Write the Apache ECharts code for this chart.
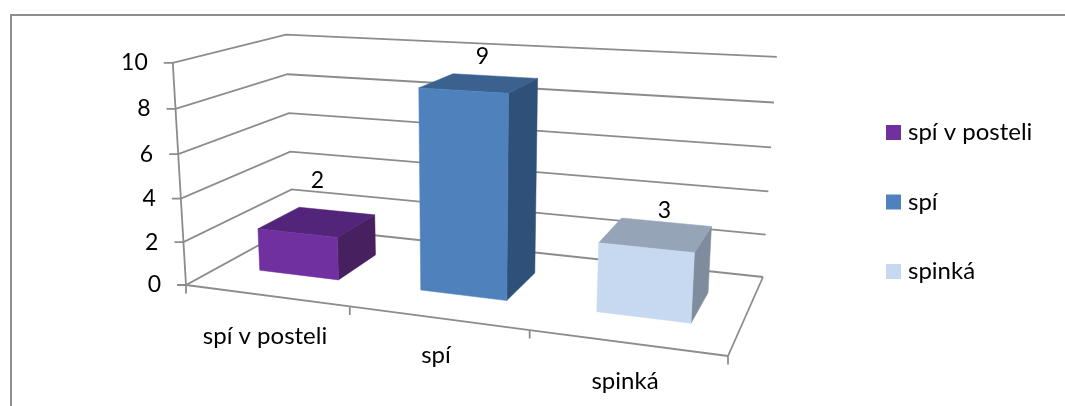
<!DOCTYPE html>
<html>
<head>
<meta charset="utf-8">
<style>html,body{margin:0;padding:0;background:#fff}#chart{width:1065px;height:406px}</style>
<script src="https://cdn.jsdelivr.net/npm/echarts@6/dist/echarts.min.js"></script>
</head>
<body>
<div id="chart"></div>
<script>
// Chart data
const categories = ['spí v posteli', 'spí', 'spinká'];
const sleepCounts = [2, 9, 3];
const valueTicks = [0, 2, 4, 6, 8, 10];

// Face colours per category: front, top, side
const faceColors = [
  ['#7030a0', '#52247a', '#47205f'],
  ['#4f81bd', '#3b618f', '#2f5078'],
  ['#c6d9f1', '#95a4b7', '#7f8c9d']
];
const lineColor = '#8c8c8c';
const fontFamily = 'Lato, Carlito, sans-serif';
const wordFont = '24px ' + fontFamily;
const digitFont = '23px ' + fontFamily;

// Floor corners of the 3D box on screen: front-left, front-right, back-right, back-left
const floorCorners = [[186, 285], [728, 356], [763, 277], [293, 226.5]];
// Height axis of the projection: screen shift per full height and the perspective divisor
const heightShift = [-21, -225];
const heightPerspective = -0.045;
// Slight easing of the category direction, evens out the band widths
const acrossEase = 0.024;

// Bar footprint in box units
const barWidthShare = 0.5;   // of one category band
const barDepth = [0.3, 0.7];

// Label placement relative to the anchors computed from the box
const valueLabelShift = [[0, -41], [3, -26], [8, -24]];
const categoryLabelAnchor = [[265, 336], [436, 355], [625, 381]];

// Projective camera: floor homography extended with a height column
const camera = (function (q) {
  const [p0, p1, p2, p3] = q;
  const dx1 = p1[0] - p2[0], dx2 = p3[0] - p2[0], sx = p0[0] - p1[0] + p2[0] - p3[0];
  const dy1 = p1[1] - p2[1], dy2 = p3[1] - p2[1], sy = p0[1] - p1[1] + p2[1] - p3[1];
  const d = dx1 * dy2 - dx2 * dy1;
  const g = (sx * dy2 - dx2 * sy) / d;
  const h = (dx1 * sy - sx * dy1) / d;
  return {
    g, h,
    a: p1[0] - p0[0] + g * p1[0], b: p3[0] - p0[0] + h * p3[0],
    c: p1[1] - p0[1] + g * p1[1], e: p3[1] - p0[1] + h * p3[1],
    x0: p0[0], y0: p0[1]
  };
})(floorCorners);

// u: across categories, w: into depth, v: height, all 0..1
function project(u, w, v) {
  const ue = u + acrossEase * u * (1 - u);
  const den = 1 + camera.g * ue + camera.h * w + heightPerspective * v;
  return [
    (camera.x0 + camera.a * ue + camera.b * w + heightShift[0] * v) / den,
    (camera.y0 + camera.c * ue + camera.e * w + heightShift[1] * v) / den
  ];
}

// The hidden cartesian grid supplies the scales; its pixels are normalised to box units
const plot = { left: 100, top: 50, width: 600, height: 300 };
function toUnit(px) {
  return [(px[0] - plot.left) / plot.width, (plot.top + plot.height - px[1]) / plot.height];
}

function poly(points, fill) {
  return {
    type: 'polygon',
    shape: { points },
    style: { fill, stroke: fill, lineWidth: 0.5 }
  };
}
function stroke(points) {
  return {
    type: 'polyline',
    shape: { points },
    style: { fill: null, stroke: lineColor, lineWidth: 1.8 }
  };
}
function label(text, x, y, font, align) {
  return {
    type: 'text',
    style: { text, x, y, align: align || 'center', verticalAlign: 'middle', font, fill: '#000' }
  };
}

// One gridline per value tick: axis tick, left wall, back wall, and the tick label
function renderValueTick(params, api) {
  const tick = api.value(1);
  const v = toUnit(api.coord([0, tick]))[1];
  const front = project(0, 0, v), back = project(0, 1, v), right = project(1, 1, v);
  return {
    type: 'group',
    children: [
      stroke([[front[0] - 9, front[1]], front, back, right]),
      label(String(tick), front[0] - 25, front[1], digitFont, 'right')
    ]
  };
}

// Floor outline, category ticks and category labels
function renderCategoryTick(params, api) {
  const i = api.value(0);
  const bandUnit = api.size([1, 0])[0] / plot.width;
  const u0 = toUnit(api.coord([i, 0]))[0] - bandUnit / 2;
  const u1 = u0 + bandUnit;
  const a = project(u0, 0, 0), b = project(u1, 0, 0);
  const children = [
    stroke([a, b]),
    stroke([b, [b[0], b[1] + 8.5]]),
    label(categories[i], categoryLabelAnchor[i][0], categoryLabelAnchor[i][1], wordFont)
  ];
  if (i === 0) {
    children.push(stroke([a, [a[0], a[1] + 8.5]]));
    children.push(stroke([project(0, 0, 0), project(0, 0, 1)]));
  }
  if (i === categories.length - 1) {
    children.push(stroke([b, project(1, 1, 0)]));
  }
  return { type: 'group', children };
}

// A box-shaped bar: front, top and right faces plus the value label
function renderBar(params, api) {
  const i = api.value(0);
  const value = api.value(1);
  const [uc, v] = toUnit(api.coord([i, value]));
  const half = api.size([1, 0])[0] / plot.width * barWidthShare / 2;
  const u0 = uc - half, u1 = uc + half;
  const [w0, w1] = barDepth;
  const colors = faceColors[i];
  const fbl = project(u0, w0, 0), fbr = project(u1, w0, 0), bbr = project(u1, w1, 0);
  const ftl = project(u0, w0, v), ftr = project(u1, w0, v);
  const btr = project(u1, w1, v), btl = project(u0, w1, v);
  const topCenter = project(uc, (w0 + w1) / 2, v);
  const shift = valueLabelShift[i];
  return {
    type: 'group',
    children: [
      poly([fbr, bbr, btr, ftr], colors[2]),
      poly([ftl, ftr, btr, btl], colors[1]),
      poly([fbl, fbr, ftr, ftl], colors[0]),
      label(String(value), topCenter[0] + shift[0], topCenter[1] + shift[1], digitFont)
    ]
  };
}

const barSeries = categories.map((name, i) => ({
  name,
  type: 'custom',
  coordinateSystem: 'cartesian2d',
  renderItem: renderBar,
  encode: { x: 0, y: 1 },
  itemStyle: { color: faceColors[i][0] },
  data: [[i, sleepCounts[i]]],
  z: 5,
  silent: true
}));

const chart = echarts.init(document.getElementById('chart'), null, { renderer: 'canvas' });
chart.setOption({
  animation: false,
  backgroundColor: '#fff',
  grid: { left: plot.left, top: plot.top, width: plot.width, height: plot.height },
  xAxis: { type: 'category', data: categories, show: false },
  yAxis: { type: 'value', min: 0, max: 10, interval: 2, show: false },
  legend: {
    orient: 'vertical',
    left: 886,
    top: 120.5,
    padding: 0,
    data: categories,
    icon: 'rect',
    itemWidth: 15,
    itemHeight: 15,
    itemGap: 45.5,
    selectedMode: false,
    textStyle: { fontFamily, fontSize: 24, lineHeight: 24, color: '#000', padding: [0, 0, 0, 2] }
  },
  graphic: [{
    type: 'polyline',
    shape: { points: [[11, 406], [11, 15], [1065, 15]] },
    style: { fill: null, stroke: '#8e8e8e', lineWidth: 2 },
    silent: true
  }],
  series: [
    {
      type: 'custom',
      name: 'value ticks',
      renderItem: renderValueTick,
      encode: { x: 0, y: 1 },
      data: valueTicks.map(t => [0, t]),
      z: 1,
      silent: true
    },
    {
      type: 'custom',
      name: 'category ticks',
      renderItem: renderCategoryTick,
      encode: { x: 0, y: 1 },
      data: categories.map((c, i) => [i, 0]),
      z: 2,
      silent: true
    },
    ...barSeries
  ]
});
</script>
</body>
</html>
